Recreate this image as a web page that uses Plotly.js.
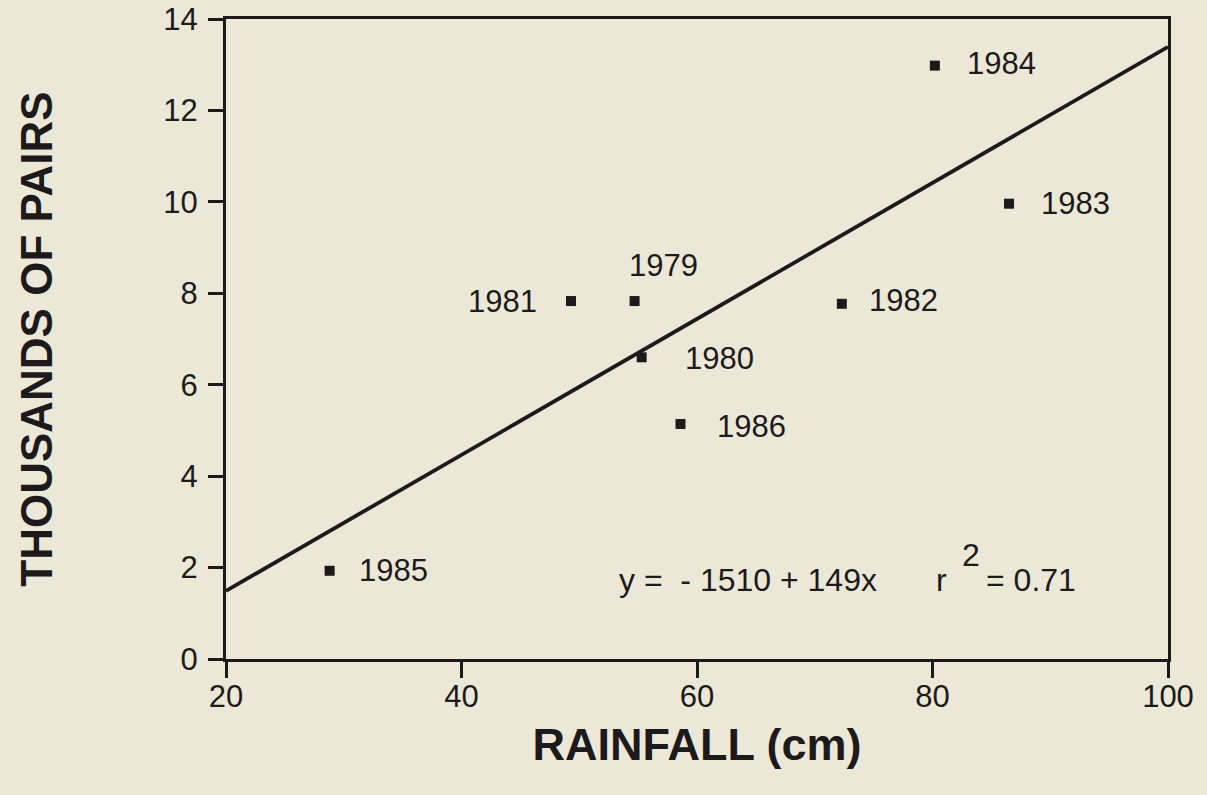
<!DOCTYPE html>
<html>
<head>
<meta charset="utf-8">
<script src="https://cdn.plot.ly/plotly-3.0.1.min.js"></script>
<style>
  html, body { margin: 0; padding: 0; background: #ece8d7; }
  #chart { width: 1207px; height: 795px; }
</style>
</head>
<body>
<div id="chart"></div>
<script>
// Data
const years     = ["1985", "1981", "1979", "1980", "1986", "1982", "1984", "1983"];
const rainfall  = [28.8, 49.3, 54.7, 55.3, 58.6, 72.3, 80.2, 86.5];
const pairsK    = [1.93, 7.83, 7.83, 6.6, 5.14, 7.77, 12.98, 9.96];
// Regression line end points (y = -1510 + 149x, in thousands)
const fitX      = [20, 100];
const fitY      = [1.49, 13.39];
const xTicks    = [20, 40, 60, 80, 100];
const yTicks    = [0, 2, 4, 6, 8, 10, 12, 14];
const equationText = "y =  - 1510 + 149x";
const r2Parts      = ["r", "2", "= 0.71"];

// label placement per year (style only)
const labelPlace = {
  "1985": {xanchor: "left",   ax: 27,  ay: 0},
  "1981": {xanchor: "right",  ax: -32, ay: 0},
  "1979": {xanchor: "center", ax: 29,  ay: -36},
  "1980": {xanchor: "left",   ax: 41,  ay: 1},
  "1986": {xanchor: "left",   ax: 34,  ay: 2},
  "1982": {xanchor: "left",   ax: 25,  ay: -3},
  "1984": {xanchor: "left",   ax: 30,  ay: -2},
  "1983": {xanchor: "left",   ax: 30,  ay: 0}
};

const ink = "#1c1a1a";
const font = "Liberation Sans, Arial, Helvetica, sans-serif";
const fs = 31;

const traces = [
  {
    x: fitX, y: fitY, mode: "lines", type: "scatter",
    line: {color: ink, width: 3.8}, hoverinfo: "skip", cliponaxis: false
  },
  {
    x: rainfall, y: pairsK, mode: "markers", type: "scatter",
    marker: {symbol: "square", size: 10, color: ink}, cliponaxis: false
  }
];

const annotations = years.map((yr, i) => {
  const p = labelPlace[yr];
  return {
    x: rainfall[i], y: pairsK[i], xref: "x", yref: "y",
    text: yr, showarrow: false,
    xanchor: p.xanchor, yanchor: "middle",
    xshift: p.ax, yshift: -p.ay,
    font: {family: font, size: fs, color: ink}
  };
});

const L = 226, R = 39, T = 19, B = 136, W = 1207, H = 795;
const pw = W - L - R, ph = H - T - B;
function px(xp) { return (xp - L) / pw; }
function py(yp) { return (H - B - yp) / ph; }

const efs = 32;
annotations.push({
  x: px(617), y: py(580), xref: "paper", yref: "paper", text: equationText, showarrow: false,
  font: {family: font, size: efs, color: ink}, xanchor: "left", yanchor: "middle"
});
annotations.push({
  x: px(934), y: py(580), xref: "paper", yref: "paper", text: r2Parts[0], showarrow: false,
  font: {family: font, size: efs, color: ink}, xanchor: "left", yanchor: "middle"
});
annotations.push({
  x: px(960), y: py(555), xref: "paper", yref: "paper", text: r2Parts[1], showarrow: false,
  font: {family: font, size: efs, color: ink}, xanchor: "left", yanchor: "middle"
});
annotations.push({
  x: px(984), y: py(580), xref: "paper", yref: "paper", text: r2Parts[2], showarrow: false,
  font: {family: font, size: efs, color: ink}, xanchor: "left", yanchor: "middle"
});

const layout = {
  width: W, height: H,
  margin: {l: L, r: R, t: T, b: B, pad: 0},
  paper_bgcolor: "#ece8d7",
  plot_bgcolor: "#ece8d7",
  showlegend: false,
  font: {family: font, color: ink},
  xaxis: {
    range: [20, 100], tickvals: xTicks, ticktext: xTicks.map(String),
    showgrid: false, zeroline: false,
    showline: true, mirror: true, linecolor: ink, linewidth: 3,
    ticks: "outside", ticklen: 16, tickwidth: 3, tickcolor: ink,
    ticklabelstandoff: -8,
    tickfont: {family: font, size: fs, color: ink},
    title: {text: "RAINFALL (cm)", font: {family: font, size: 45, color: ink, weight: "bold"}, standoff: 16}
  },
  yaxis: {
    range: [0, 14], tickvals: yTicks, ticktext: yTicks.map(String),
    showgrid: false, zeroline: false,
    showline: true, mirror: true, linecolor: ink, linewidth: 3,
    ticks: "outside", ticklen: 15, tickwidth: 3, tickcolor: ink,
    ticklabelstandoff: 4,
    tickfont: {family: font, size: fs, color: ink},
    title: {text: "THOUSANDS OF PAIRS", font: {family: font, size: 44, color: ink, weight: "bold"}, standoff: 97}
  },
  annotations: annotations
};

Plotly.newPlot("chart", traces, layout, {displayModeBar: false, staticPlot: true});
</script>
</body>
</html>
